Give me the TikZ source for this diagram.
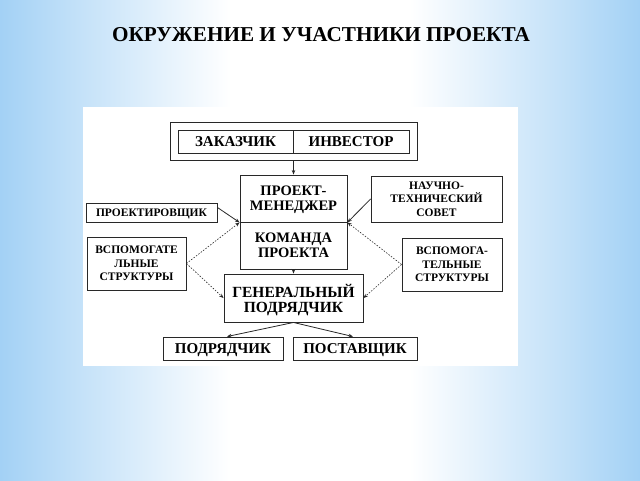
\documentclass[tikz,border=0pt]{standalone}
\usepackage{fontspec}
\setmainfont{Liberation Serif}
\usetikzlibrary{arrows.meta,calc}
\definecolor{skyb}{RGB}{163,209,245}
\definecolor{linegray}{RGB}{40,40,40}
\pgfdeclarehorizontalshading{bgsh}{100bp}{color(0bp)=(skyb); color(25bp)=(skyb); color(32bp)=(skyb!60!white); color(43bp)=(white); color(57bp)=(white); color(68bp)=(skyb!60!white); color(75bp)=(skyb); color(100bp)=(skyb)}
\tikzset{
  box/.style={draw=linegray, line width=0.9pt, fill=white, inner sep=0pt, align=center, text depth=0pt},
  conn/.style={draw=linegray, line width=0.8pt, -{Stealth[length=4.5pt,width=3.5pt]}},
  dconn/.style={conn, dash pattern=on 1.5pt off 1.5pt, line width=0.6pt},
  big/.style={font=\fontsize{15}{15}\selectfont\bfseries},
  mid/.style={font=\fontsize{14.5}{15}\selectfont\bfseries},
  small/.style={font=\fontsize{11.5}{13.5}\selectfont\bfseries},
}
\begin{document}
\begin{tikzpicture}[x=1pt,y=-1pt]
\useasboundingbox (0,0) rectangle (640,480);
\shade[shading=bgsh] (0,0) rectangle (640,480);
\node (title) at (321,34.5) {\fontsize{21.2}{25}\selectfont\bfseries ОКРУЖЕНИЕ И УЧАСТНИКИ ПРОЕКТА};
\fill[white] (83,107) rectangle (518,366);
\node[box, minimum width=247pt, minimum height=38pt] (outer) at (293.5,141) {};
\node[box, big, minimum width=115pt, minimum height=23pt] (zak) at (235.5,141.5) {ЗАКАЗЧИК};
\node[box, big, minimum width=116pt, minimum height=23pt] (inv) at (351,141.5) {ИНВЕСТОР};
\node[box, mid, minimum width=107pt, minimum height=47pt] (man) at (293.5,198.5) {ПРОЕКТ-\\МЕНЕДЖЕР};
\node[box, mid, minimum width=107pt, minimum height=47pt] (team) at (293.5,245.5) {КОМАНДА\\ПРОЕКТА};
\node[box, small, minimum width=131pt, minimum height=19pt] (proj) at (151.5,212.5) {ПРОЕКТИРОВЩИК};
\node[box, small, minimum width=131pt, minimum height=46pt] (nts) at (436.5,199) {НАУЧНО-\\ТЕХНИЧЕСКИЙ\\СОВЕТ};
\node[box, small, minimum width=99pt, minimum height=53pt] (vl) at (136.5,263.5) {ВСПОМОГАТЕ\\ЛЬНЫЕ\\СТРУКТУРЫ};
\node[box, small, minimum width=100pt, minimum height=53pt] (vr) at (452,264.5) {ВСПОМОГА-\\ТЕЛЬНЫЕ\\СТРУКТУРЫ};
\node[box, font=\fontsize{15.5}{15}\selectfont\bfseries, minimum width=139pt, minimum height=48pt] (gen) at (293.5,298) {ГЕНЕРАЛЬНЫЙ\\ПОДРЯДЧИК};
\node[box, big, minimum width=120pt, minimum height=23pt] (podr) at (223,348.5) {ПОДРЯДЧИК};
\node[box, big, minimum width=124pt, minimum height=23pt] (post) at (355,348.5) {ПОСТАВЩИК};
\draw[conn] (outer.south) -- (man.north);
\draw[conn] (team.south) -- (gen.north);
\draw[conn] ([yshift=5pt]proj.east) -- (man.south west);
\draw[conn] (nts.west) -- (man.south east);
\draw[dconn] (vl.east) -- (man.south west);
\draw[dconn] (vl.east) -- (gen.west);
\draw[dconn] (vr.west) -- (man.south east);
\draw[dconn] (vr.west) -- (gen.east);
\draw[conn] (gen.south) -- ([xshift=4pt]podr.north);
\draw[conn] (gen.south) -- ([xshift=-2pt]post.north);
\end{tikzpicture}
\end{document}
